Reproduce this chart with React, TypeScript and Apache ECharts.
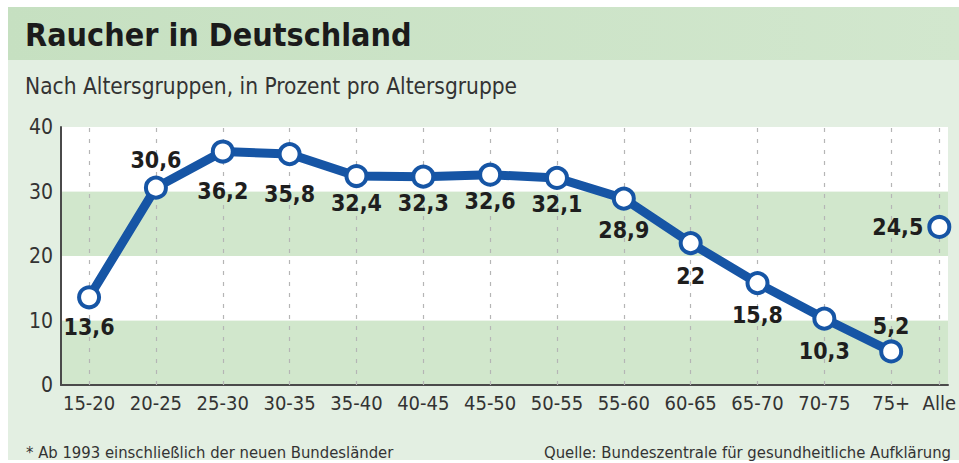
import React, { useEffect, useRef } from "react";
import * as echarts from "echarts";

const ageGroups = ["15-20", "20-25", "25-30", "30-35", "35-40", "40-45", "45-50", "50-55", "55-60", "60-65", "65-70", "70-75", "75+"];
const smokerShare = [13.6, 30.6, 36.2, 35.8, 32.4, 32.3, 32.6, 32.1, 28.9, 22, 15.8, 10.3, 5.2];
const totalLabel = "Alle";
const totalValue = 24.5;
const yTicks = [0, 10, 20, 30, 40];

const TITLE = "Raucher in Deutschland";
const SUBTITLE = "Nach Altersgruppen, in Prozent pro Altersgruppe";
const FOOTNOTE = "* Ab 1993 einschließlich der neuen Bundesländer";
const SOURCE = "Quelle: Bundeszentrale für gesundheitliche Aufklärung";

const FONT = "'Liberation Sans Narrow', 'DejaVu Sans Condensed', 'Roboto Condensed', Roboto, sans-serif";
const BLUE = "#1655a5";
const INK = "#1e1e1e";

// label placement per point: [position, distance]
const labelPlace: [string, number][] = [
  ["bottom", 6], ["top", 4], ["bottom", 16], ["bottom", 16], ["bottom", 3], ["bottom", 3], ["bottom", 3], ["bottom", 3],
  ["bottom", 8], ["bottom", 9], ["bottom", 8], ["bottom", 9], ["top", 2],
];

export default function App() {
  const ref = useRef<HTMLDivElement>(null);
  useEffect(() => {
    if (!ref.current) return;
    const chart = echarts.init(ref.current, null, { renderer: "svg" });
    const allePos = ageGroups.length - 1 + 0.72;
    const positions = [...ageGroups.map((_, i) => i), allePos];
    const names = [...ageGroups, totalLabel];
    const fmt = (v: number) => String(v).replace(".", ",");
    const yMin = yTicks[0];
    const yMax = yTicks[yTicks.length - 1];
    chart.setOption({
      animation: false,
      textStyle: { fontFamily: FONT },
      graphic: [
        { type: "rect", shape: { x: 8, y: 7, width: 951, height: 453 }, style: { fill: "#e3efe2" }, z: -10 },
        {
          type: "rect", shape: { x: 8, y: 7, width: 951, height: 53 }, z: -9,
          style: { fill: new echarts.graphic.LinearGradient(0, 0, 1, 0, [{ offset: 0, color: "#c6e0c1" }, { offset: 1, color: "#d2e7ce" }]) },
        },
        { type: "text", x: 25, y: 35, style: { text: TITLE, font: `bold 32px ${FONT}`, fill: "#1b1b1b", textVerticalAlign: "middle" } },
        { type: "text", x: 25, y: 86, style: { text: SUBTITLE, font: `22.5px ${FONT}`, fill: "#333", textVerticalAlign: "middle" } },
        { type: "text", x: 26, y: 452, style: { text: FOOTNOTE, font: `16.5px ${FONT}`, fill: "#333", textVerticalAlign: "middle" } },
        { type: "text", x: 951, y: 452, style: { text: SOURCE, font: `16.5px ${FONT}`, fill: "#333", textAlign: "right", textVerticalAlign: "middle" } },
      ],
      grid: { left: 61, right: 0, top: 127, bottom: 78 },
      xAxis: {
        type: "value",
        min: -0.42,
        max: 12.85,
        axisLine: { show: true, onZero: false, lineStyle: { color: "#4a4a4a", width: 2 } },
        axisTick: { show: false },
        splitLine: { show: false },
        axisLabel: {
          customValues: positions,
          formatter: (v: number) => {
            const i = positions.findIndex((p) => Math.abs(p - v) < 1e-6);
            return i >= 0 ? names[i] : "";
          },
          color: "#333",
          fontSize: 20,
          margin: 8,
          fontFamily: FONT,
          showMinLabel: true,
          showMaxLabel: true,
        },
      },
      yAxis: {
        type: "value",
        min: yMin,
        max: yMax,
        interval: 10,
        axisLine: { show: true, onZero: false, lineStyle: { color: "#4a4a4a", width: 2 } },
        axisTick: { show: false },
        axisLabel: { color: "#333", fontSize: 21, margin: 8, fontFamily: FONT },
        splitLine: { show: false },
        splitArea: { show: true, areaStyle: { color: ["#d1e7cc", "#ffffff"] } },
      },
      series: [
        {
          type: "line",
          data: [],
          silent: true,
          z: 1,
          markLine: {
            silent: true,
            z: 1,
            symbol: ["none", "none"],
            label: { show: false },
            lineStyle: { color: "#b5b5b5", type: [4, 7], width: 1.2, opacity: 1 },
            emphasis: { disabled: true },
            data: positions.map((p) => [{ coord: [p, yMin] }, { coord: [p, yMax] }]),
          },
        },
        {
          type: "line",
          data: smokerShare.map((v, i) => ({
            value: [i, v],
            label: { position: labelPlace[i][0], distance: labelPlace[i][1] },
          })),
          lineStyle: { color: BLUE, width: 9 },
          symbol: "circle",
          symbolSize: 20,
          itemStyle: { color: "#ffffff", borderColor: BLUE, borderWidth: 4 },
          label: {
            show: true,
            formatter: (p: any) => fmt(p.value[1]),
            fontSize: 23,
            fontWeight: "bold",
            color: INK,
            fontFamily: FONT,
          },
          z: 6,
        },
        {
          type: "scatter",
          data: [{ value: [allePos, totalValue] }],
          symbol: "circle",
          symbolSize: 20,
          itemStyle: { color: "#ffffff", borderColor: BLUE, borderWidth: 4, opacity: 1 },
          label: {
            show: true,
            position: "left",
            distance: 4,
            formatter: (p: any) => fmt(p.value[1]),
            fontSize: 23,
            fontWeight: "bold",
            color: INK,
            fontFamily: FONT,
          },
          z: 6,
        },
      ],
    });
    return () => chart.dispose();
  }, []);
  return <div ref={ref} style={{ position: "fixed", left: 0, top: 0, width: 959, height: 463, background: "#fff" }} />;
}
